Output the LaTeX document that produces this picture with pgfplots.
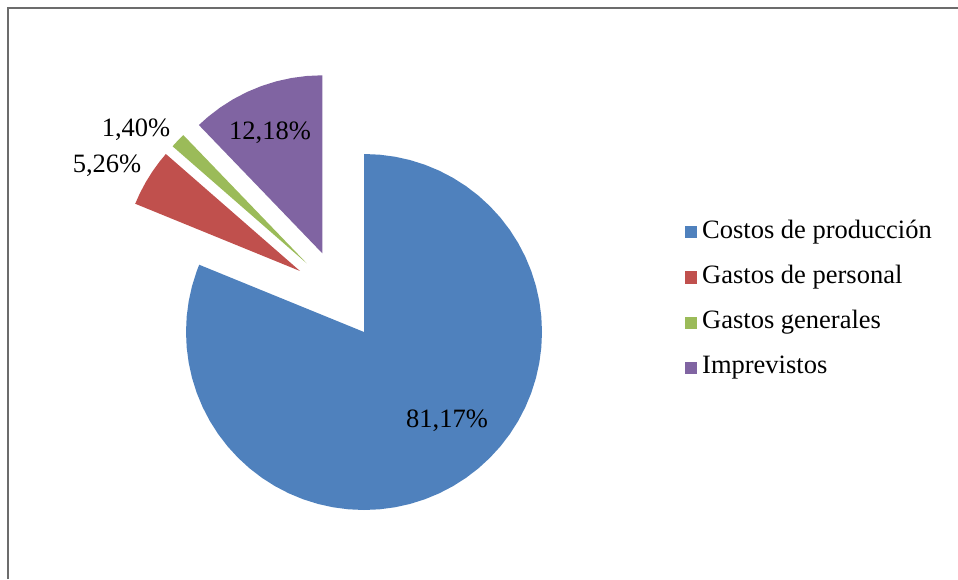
\documentclass[border=0pt]{standalone}
\usepackage{fontspec}
\setmainfont{Liberation Serif}
\usepackage{pgfplots}
\pgfplotsset{compat=1.18}
\definecolor{cblue}{HTML}{4F81BD}
\definecolor{cred}{HTML}{C0504D}
\definecolor{cgreen}{HTML}{9BBB59}
\definecolor{cpurple}{HTML}{8064A2}
\begin{document}
\begin{tikzpicture}
\begin{axis}[
  name=pie,
  x=1pt, y=1pt, scale only axis,
  xmin=-364, xmax=594, ymin=-247, ymax=332,
  hide axis, clip=false,
  legend image code/.code={\fill[#1, draw=none] (0pt,-6pt) rectangle (12pt,6pt);},
  legend style={draw=none, fill=none, at={(axis cs:321,32)}, anchor=west,
    font=\fontsize{26.5}{30}\selectfont, inner sep=0pt,
    nodes={inner sep=0pt, text height=18pt, text depth=6pt},
    row sep=21pt, column sep=5pt},
  legend cell align=left,
]
% frame
\addplot[forget plot, draw=gray!85!black, line width=1.5pt] coordinates {(-356,-247) (-356,324) (594,324)};
% Costos de produccion 81.17%
\addplot[forget plot, fill=cblue, draw=none, data cs=polar] coordinates {
(0,0) (-202.2,178) (-200,178) (-195,178) (-190,178) (-185,178) (-180,178) (-175,178) (-170,178) (-165,178) (-160,178) (-155,178) (-150,178) (-145,178) (-140,178) (-135,178) (-130,178) (-125,178) (-120,178) (-115,178) (-110,178) (-105,178) (-100,178) (-95,178) (-90,178) (-85,178) (-80,178) (-75,178) (-70,178) (-65,178) (-60,178) (-55,178) (-50,178) (-45,178) (-40,178) (-35,178) (-30,178) (-25,178) (-20,178) (-15,178) (-10,178) (-5,178) (0,178) (5,178) (10,178) (15,178) (20,178) (25,178) (30,178) (35,178) (40,178) (45,178) (50,178) (55,178) (60,178) (65,178) (70,178) (75,178) (80,178) (85,178) (90,178) (0,0)} -- cycle;
% Gastos de personal 5.26%
\addplot[forget plot, fill=cred, draw=none, data cs=polar, xshift=-64pt, yshift=61pt] coordinates {
(0,0) (138.9,178) (142,178) (146,178) (150,178) (154,178) (157.8,178) (0,0)} -- cycle;
% Gastos generales 1.40%
\addplot[forget plot, fill=cgreen, draw=none, data cs=polar, xshift=-57.3pt, yshift=68.7pt] coordinates {
(0,0) (133.9,178) (136.4,178) (138.9,178) (0,0)} -- cycle;
% Imprevistos 12.18%
\addplot[forget plot, fill=cpurple, draw=none, data cs=polar, xshift=-41.7pt, yshift=78.7pt] coordinates {
(0,0) (90,178) (95,178) (100,178) (105,178) (110,178) (115,178) (120,178) (125,178) (130,178) (133.9,178) (0,0)} -- cycle;
\addlegendimage{fill=cblue}\addlegendentry{Costos de producción}
\addlegendimage{fill=cred}\addlegendentry{Gastos de personal}
\addlegendimage{fill=cgreen}\addlegendentry{Gastos generales}
\addlegendimage{fill=cpurple}\addlegendentry{Imprevistos}
\begin{scope}[font=\fontsize{26.5}{30}\selectfont]
\node at (axis cs:83,-89) {81,17\%};
\node at (axis cs:-94,199) {12,18\%};
\node at (axis cs:-228,202) {1,40\%};
\node at (axis cs:-257,166) {5,26\%};
\end{scope}
\end{axis}
\pgfresetboundingbox
\useasboundingbox (pie.south west) rectangle (pie.north east);
\end{tikzpicture}
\end{document}
